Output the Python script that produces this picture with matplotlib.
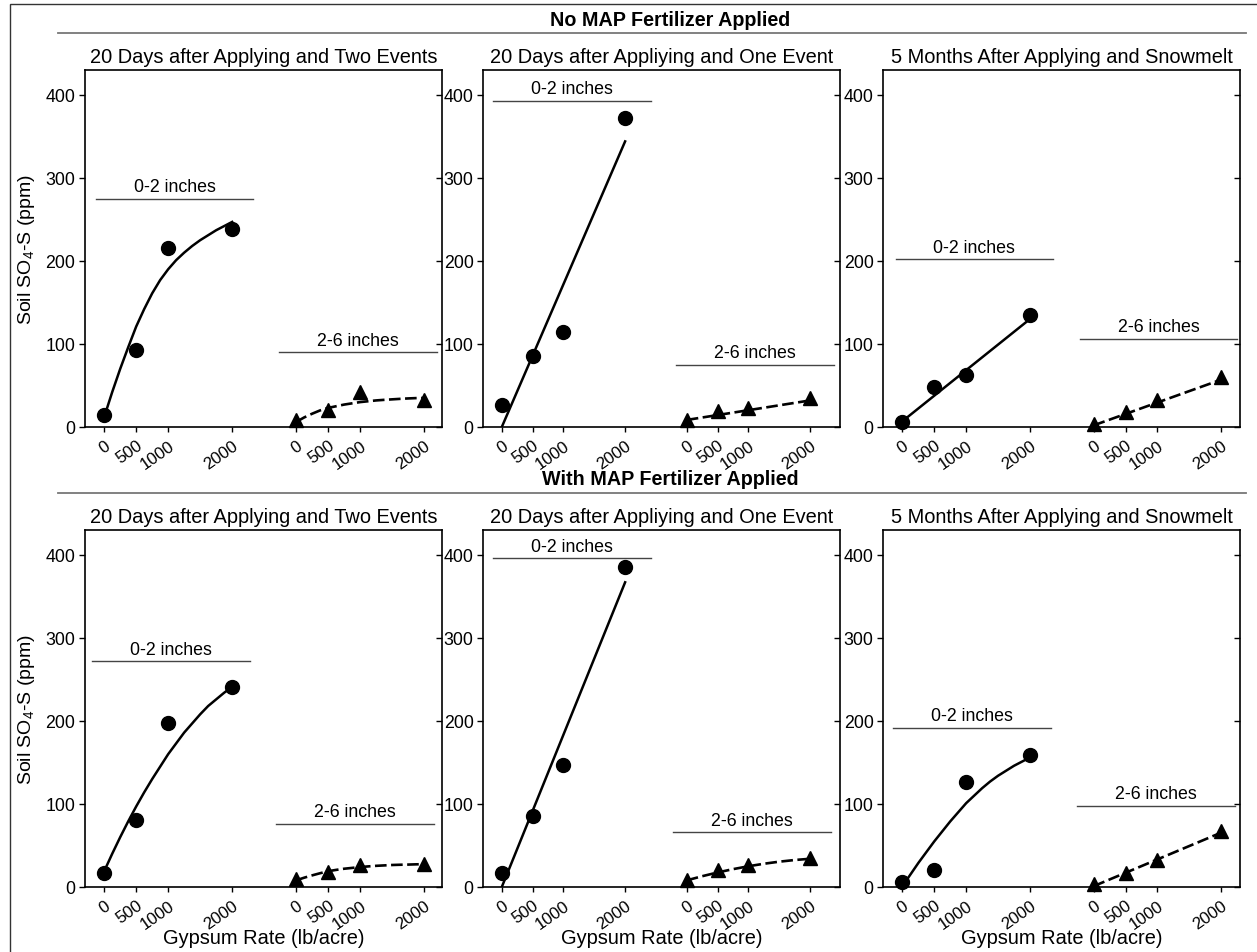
import matplotlib
matplotlib.use("Agg")
import matplotlib.pyplot as plt
from matplotlib.patches import Rectangle
from matplotlib.lines import Line2D

plt.rcParams['font.family'] = ['Liberation Sans', 'DejaVu Sans']
plt.rcParams['mathtext.fontset'] = 'custom'
plt.rcParams['mathtext.rm'] = 'Liberation Sans'
plt.rcParams['mathtext.it'] = 'Liberation Sans:italic'

# ---------------- data ----------------
rates = [0, 500, 1000, 2000]
rate_labels = ['0', '500', '1000', '2000']
fit_x9 = [0, 250, 500, 750, 1000, 1250, 1500, 1750, 2000]
fit_x17 = [0, 125, 250, 375, 500, 625, 750, 875, 1000,
           1125, 1250, 1375, 1500, 1625, 1750, 1875, 2000]
line_x = [0, 2000]

section_titles = ['No MAP Fertilizer Applied', 'With MAP Fertilizer Applied']
panel_titles = ['20 Days after Applying and Two Events',
                '20 Days after Appliying and One Event',
                '5 Months After Applying and Snowmelt']
depth_labels = ['0-2 inches', '2-6 inches']

# No MAP - two events
p1_s02 = [15, 93, 216, 239]
p1_s26 = [8, 20, 42, 32]
p1_fit02 = [12, 42, 70, 96, 121, 142, 161, 177, 190, 201, 210, 218, 225, 231, 237, 242, 247]
p1_fit26 = [6, 11.5, 16, 20, 23, 25, 27, 28.5, 30, 31, 32, 32.7, 33.3, 33.9, 34.4, 34.8, 35]
# No MAP - one event
p2_s02 = [27, 86, 115, 372]
p2_s26 = [8, 19, 22.5, 34.6]
p2_fit02 = [0, 344]
p2_fit26 = [8.5, 32]
# No MAP - snowmelt
p3_s02 = [5.6, 48, 63, 135]
p3_s26 = [3.6, 18, 32, 60]
p3_fit02 = [7, 130]
p3_fit26 = [2, 57]
# With MAP - two events
p4_s02 = [17, 81, 197, 241]
p4_s26 = [10, 18.5, 26.5, 27.7]
p4_fit02 = [19, 40, 60, 79, 97, 114, 130, 145, 160, 173, 186, 197, 208, 218, 226, 234, 241]
p4_fit26 = [8, 11.2, 14, 16.6, 19, 20.6, 22, 23, 24, 24.8, 25.5, 26, 26.5, 26.8, 27, 27.3, 27.5]
# With MAP - one event
p5_s02 = [17, 85, 147, 386]
p5_s26 = [8.4, 20.5, 26.5, 34.6]
p5_fit02 = [0, 367]
p5_fit26 = [8, 13, 17.5, 21.5, 25, 28, 30.5, 32.5, 34]
# With MAP - snowmelt
p6_s02 = [6.4, 21, 127, 159]
p6_s26 = [3.2, 17, 33, 68]
p6_fit02 = [1, 15, 29, 42, 55, 67, 79, 90, 101, 110, 119, 127, 134, 140, 146, 151, 156]
p6_fit26 = [1, 65.5]

panels = [
    (p1_s02, p1_s26, fit_x17, p1_fit02, fit_x17, p1_fit26),
    (p2_s02, p2_s26, line_x, p2_fit02, line_x, p2_fit26),
    (p3_s02, p3_s26, line_x, p3_fit02, line_x, p3_fit26),
    (p4_s02, p4_s26, fit_x17, p4_fit02, fit_x17, p4_fit26),
    (p5_s02, p5_s26, line_x, p5_fit02, fit_x9, p5_fit26),
    (p6_s02, p6_s26, fit_x17, p6_fit02, line_x, p6_fit26),
]

# ---------------- layout ----------------
W, H = 1257, 953
offset = 3000  # x shift of the 2-6 inch group
xlims = [(-300, 5280), (-300, 5490), (-300, 5300)]
col_left = [85, 483.3, 883.3]
ax_w = 357
row_top = [71, 531]
ax_h = 357
# depth label bars: (x0, x1, y)
label_bars = [
    [(-125, 2330, 275), (2735, 5205, 90)],
    [(-150, 2415, 393), (2825, 5385, 75)],
    [(-105, 2360, 202), (2780, 5250, 106)],
    [(-185, 2280, 272), (2690, 5155, 76)],
    [(-135, 2420, 396), (2780, 5335, 66)],
    [(-150, 2330, 192), (2740, 5210, 98)],
]

fig = plt.figure(figsize=(W / 100, H / 100), dpi=100)

# figure border (left and top visible)
fig.patches.append(Rectangle((10 / W, -0.05), 1.2, 1.05 - 5 / H, transform=fig.transFigure,
                             fill=False, edgecolor='#333333', linewidth=1.0, clip_on=False))

for r in range(2):
    top = row_top[r]
    # section title and rule
    fig.text(670 / W, 1 - (top - 51) / H, section_titles[r], ha='center', va='center',
             fontsize=14.2, fontweight='bold')
    yline = 1 - (top - 37.5) / H
    fig.add_artist(Line2D([58 / W, 1246 / W], [yline, yline], transform=fig.transFigure,
                          color='#777777', linewidth=1.3))
    for c in range(3):
        i = r * 3 + c
        s02, s26, fx02, fy02, fx26, fy26 = panels[i]
        ax = fig.add_axes([col_left[c] / W, 1 - (top + ax_h) / H, ax_w / W, ax_h / H])
        ax.set_xlim(*xlims[c])
        ax.set_ylim(0, 430)
        # fits
        ax.plot(fx02, fy02, color='black', linewidth=1.8, zorder=3,
                solid_joinstyle='round')
        ax.plot([x + offset for x in fx26], fy26, color='black', linewidth=1.9,
                dashes=(4.4, 1.7), zorder=3)
        # points
        ax.plot(rates, s02, 'o', color='black', markersize=10, zorder=4, clip_on=False)
        ax.plot([x + offset for x in rates], s26, '^', color='black', markersize=10,
                zorder=4, clip_on=False)
        # depth labels
        for (x0, x1, yb), txt in zip(label_bars[i], depth_labels):
            ax.plot([x0, x1], [yb, yb], color='#444444', linewidth=1.0, zorder=2)
            ax.annotate(txt, xy=((x0 + x1) / 2, yb), xytext=(0, 5.5), textcoords='offset points',
                        ha='center', va='baseline', fontsize=12.8)
        # ticks
        ax.set_xticks(rates + [x + offset for x in rates])
        ax.set_xticklabels(rate_labels + rate_labels, rotation=35, ha='right', va='top',
                           rotation_mode='anchor', fontsize=12.2)
        ax.set_yticks([0, 100, 200, 300, 400])
        ax.tick_params(axis='y', direction='out', length=4, width=1, labelsize=12.8, pad=3)
        ax.tick_params(axis='x', direction='out', length=3.5, width=1, pad=4)
        for sp in ax.spines.values():
            sp.set_linewidth(1.2)
        ax2 = ax.twinx()
        ax2.set_ylim(0, 430)
        ax2.set_yticks([0, 100, 200, 300, 400])
        ax2.tick_params(axis='y', direction='in', length=4, width=1, labelright=False)
        for sp in ax2.spines.values():
            sp.set_visible(False)
        ax.set_title(panel_titles[c], fontsize=14.4, pad=6)
        if c == 0:
            ax.set_ylabel('Soil SO$_4$-S (ppm)', fontsize=14, labelpad=6)
        if r == 1:
            fig.text((col_left[c] + ax_w / 2) / W, 1 - 939 / H, 'Gypsum Rate (lb/acre)',
                     ha='center', va='center', fontsize=14.4)

fig.savefig('out.png', dpi=100)
